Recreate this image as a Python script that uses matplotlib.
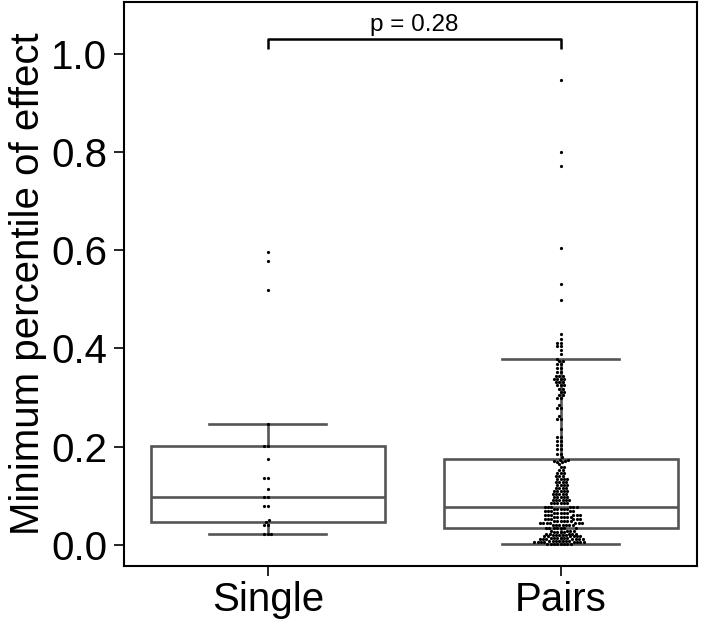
import numpy as np
import pandas as pd
import matplotlib
matplotlib.use("Agg")
import matplotlib.pyplot as plt
import seaborn as sns

# values
groups = ["Single", "Pairs"]

single_vals = [0.596, 0.578, 0.520, 0.247, 0.201, 0.201, 0.175, 0.136, 0.136,
               0.113, 0.097, 0.097, 0.079, 0.079, 0.050, 0.046, 0.040, 0.040,
               0.021, 0.021, 0.021]

# Pairs: distinct values and how many points sit at each
pairs_vals = [0.002, 0.005, 0.008, 0.011, 0.014, 0.017, 0.020, 0.023, 0.026, 0.029,
              0.034, 0.040, 0.044, 0.048, 0.052, 0.056, 0.060, 0.064, 0.068, 0.072,
              0.076, 0.086, 0.092, 0.098, 0.104, 0.110, 0.116, 0.122, 0.128, 0.134,
              0.140, 0.146, 0.152, 0.158, 0.164, 0.168, 0.170, 0.173,
              0.178, 0.185, 0.195, 0.203, 0.212, 0.220, 0.235, 0.256, 0.262, 0.278,
              0.284, 0.300, 0.306, 0.312, 0.318, 0.326, 0.332, 0.338, 0.344, 0.352,
              0.360, 0.368, 0.374, 0.378, 0.388, 0.397, 0.404, 0.411, 0.420, 0.430,
              0.499, 0.532, 0.604, 0.771, 0.801, 0.947]
pairs_counts = [8, 8, 7, 7, 6, 6, 5, 5, 4, 4,
                7, 7, 7, 6, 6, 6, 6, 5, 5, 5,
                6, 6, 6, 5, 5, 5, 4, 4, 4, 4,
                3, 3, 2, 2, 1, 2, 2, 2,
                1, 2, 2, 2, 2, 2, 1, 2, 1, 2,
                1, 2, 2, 2, 2, 3, 3, 4, 3, 2,
                2, 2, 2, 1, 1, 1, 2, 2, 1, 1,
                1, 1, 1, 1, 1, 1]

p_text = "p = 0.28"

pairs_all = np.repeat(pairs_vals, pairs_counts)
df = pd.DataFrame({
    "group": ["Single"] * len(single_vals) + ["Pairs"] * len(pairs_all),
    "value": list(single_vals) + list(pairs_all),
})

plt.rcParams['font.family'] = ['Liberation Sans', 'DejaVu Sans']

fig = plt.figure(figsize=(7.08, 6.26), dpi=100)
ax = fig.add_axes([0.175, 0.096, 0.809, 0.901])

box_col = "#555555"
sns.boxplot(data=df, x="group", y="value", order=groups, showfliers=False,
            width=0.8, color="white", linewidth=1.9, ax=ax,
            boxprops=dict(facecolor="white", edgecolor=box_col),
            whiskerprops=dict(color=box_col), capprops=dict(color=box_col),
            medianprops=dict(color=box_col))
sns.swarmplot(data=df, x="group", y="value", order=groups, color="black",
              size=2.3, ax=ax)

# significance bracket
yb = 1.030
ax.plot([0, 0, 1, 1], [1.009, yb, yb, 1.009], color="black", lw=1.8,
        solid_capstyle="butt")
ax.text(0.5, yb + 0.007, p_text, ha="center", va="bottom", fontsize=17.5)

ax.set_xlim(-0.491, 1.464)
ax.set_ylim(-0.043, 1.106)
ax.set_yticks([0.0, 0.2, 0.4, 0.6, 0.8, 1.0])
ax.set_yticklabels(["0.0", "0.2", "0.4", "0.6", "0.8", "1.0"])
ax.set_xlabel("")
ax.set_ylabel("Minimum percentile of effect", fontsize=29, labelpad=3)
ax.tick_params(axis="both", labelsize=29, length=7, width=1.2, color="black")
ax.tick_params(axis="y", pad=5)
ax.tick_params(axis="x", pad=4)
for s in ax.spines.values():
    s.set_linewidth(1.5)
    s.set_color("black")

fig.savefig("out.png", dpi=100)
